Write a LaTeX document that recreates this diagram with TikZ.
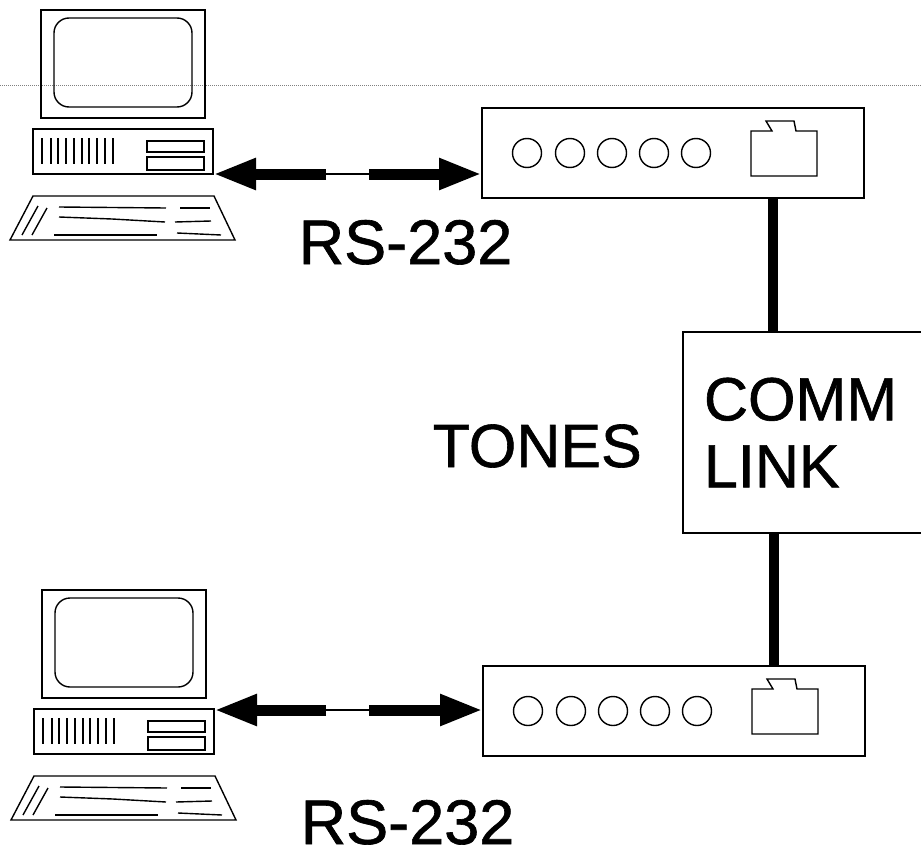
\documentclass[tikz,border=0pt]{standalone}
\usepackage{fontspec}
\setmainfont{Liberation Sans}[RawFeature={embolden=1}]
\usetikzlibrary{positioning,arrows.meta}
\tikzset{every picture/.style={line width=1.4pt}}
\tikzset{
    bigtext/.style={inner sep=0pt, font=\fontsize{61}{67}\selectfont},
    porttext/.style={inner sep=0pt, font=\fontsize{63}{67}\selectfont},
    box/.style={draw, rectangle, inner sep=0pt, outer sep=0pt},
    serial/.style={line width=11pt, -{Triangle[length=43pt,width=29pt]}},
    link/.style={line width=10pt},
    pics/computer/.style={code={
        \draw (41,10) rectangle (205,118);
        \draw[rounded corners=15pt] (54,18) rectangle (192,107);
        \node[box, minimum width=180pt, minimum height=45pt] (case) at (123,151.5) {};
        \foreach \vx in {42,51,58,66,74,82,89,97,105,113}
            \draw (\vx,138) -- (\vx,164);
        \draw (147,141) rectangle (204,152);
        \draw (147,157) rectangle (204,170);
        \draw (33,196) -- (214,196) -- (235,240) -- (10,240) -- cycle;
        \draw (38,206) -- (22,235);
        \draw (47,208) -- (32,235);
        \draw (59,207) -- (166,208);
        \draw (59,217) -- (112,219) -- (165,222);
        \draw (54,235) -- (157,235);
        \draw (180,208) -- (210,208);
        \draw (175,222) -- (211,221);
        \draw (177,233) -- (221,235);
    }},
    pics/modem/.style={code={
        \node[box, minimum width=382pt, minimum height=90pt] (box) at (0,0) {};
        \foreach \cx in {-146,-103,-61,-19,23}
            \draw (\cx,0) circle (14.5pt);
        \draw (78,-22) -- (99,-22) -- (93,-32) -- (121,-32) -- (123,-22) -- (144,-22) -- (144,23) -- (78,23) -- cycle;
    }}
}
\begin{document}
\begin{tikzpicture}[x=1pt, y=-1pt]
    \clip (0,0) rectangle (921,851);
    % Scan line
    \coordinate (scanL) at (0,85);
    \coordinate (scanR) at (921,85);
    \draw[gray, densely dotted, line width=1pt] (scanL) -- (scanR);

    % Computers and modems
    \pic (pcA) at (0,0) {computer};
    \pic (pcB) at (1,580) {computer};
    \pic (modemA) at (673,153) {modem};
    \pic (modemB) at (674,711) {modem};
    \node[box, bigtext, minimum width=242pt, minimum height=201pt, text width=200pt, align=left] (comm) at (804,432.5) {COMM\\LINK};

    % Connections
    \coordinate (gapAl) at (326,174);
    \coordinate (gapAr) at (369,174);
    \coordinate (gapBl) at (326,710);
    \coordinate (gapBr) at (369,710);
    \draw[serial] (gapAl) -- (pcAcase.east |- gapAl);
    \draw[serial] (gapAr) -- (modemAbox.west |- gapAr);
    \draw (gapAl) -- (gapAr);
    \draw[serial] (gapBl) -- (pcBcase.east |- gapBl);
    \draw[serial] (gapBr) -- (modemBbox.west |- gapBr);
    \draw (gapBl) -- (gapBr);
    \draw[link] ([xshift=100pt]modemAbox.south) -- ([xshift=100pt]modemAbox.south |- comm.north);
    \draw[link] ([xshift=100pt]modemBbox.north) -- ([xshift=100pt]modemBbox.north |- comm.south);

    % Labels
    \node[porttext, anchor=base west] (rsA) at (298,264) {RS-232};
    \node[porttext, anchor=base west] (rsB) at (300,844) {RS-232};
    \node[bigtext, anchor=base west] (tones) at (432,467) {TONES};
\end{tikzpicture}
\end{document}
